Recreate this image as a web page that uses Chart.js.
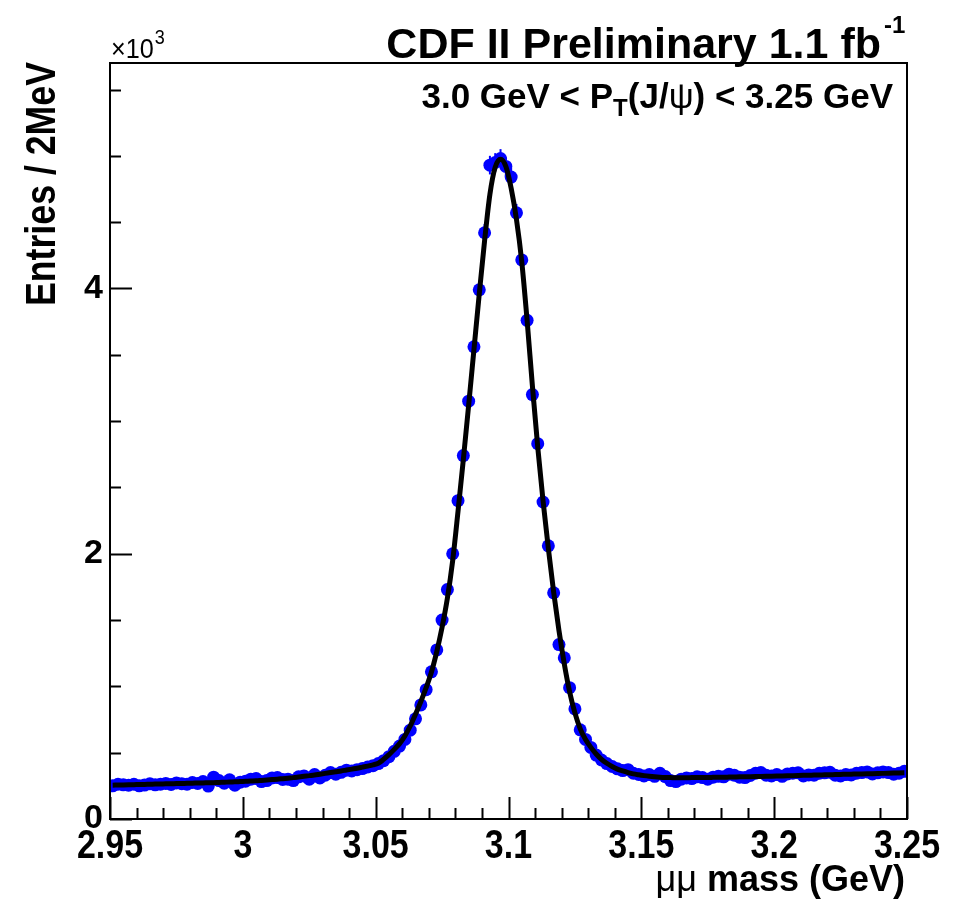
<!DOCTYPE html>
<html>
<head>
<meta charset="utf-8">
<script src="https://cdn.jsdelivr.net/npm/chart.js@4/dist/chart.umd.min.js"></script>
<style>
  html, body { margin: 0; padding: 0; background: #ffffff; }
  #wrap { position: relative; width: 966px; height: 903px; }
</style>
</head>
<body>
<div id="wrap"><canvas id="c"></canvas></div>
<script>
// ---- histogram binning (2 MeV bins from 2.95 to 3.25 GeV) ----
const BIN_LOW = 2.95;
const BIN_WIDTH = 0.002;

// ---- entries per bin ----
const COUNTS = [
  250, 262, 258, 255, 262, 250, 256, 265, 258, 262,
  268, 260, 272, 266, 262, 275, 268, 282, 248, 315,
  290, 270, 295, 255, 278, 285, 300, 305, 282, 290,
  310, 312, 298, 300, 290, 318, 325, 300, 335, 310,
  330, 350, 338, 352, 368, 362, 372, 380, 392, 402,
  418, 440, 470, 510, 550, 600, 670, 755, 860, 975,
  1110, 1275, 1500, 1730, 2000, 2400, 2740, 3150, 3560, 3990,
  4420, 4930, 4950, 4980, 4920, 4840, 4570, 4215, 3760, 3200,
  2830, 2390, 2060, 1705, 1315, 1215, 990, 830, 672, 600,
  540, 482, 445, 418, 396, 378, 365, 372, 345, 336,
  325, 335, 322, 345, 320, 290, 282, 300, 310, 305,
  318, 312, 300, 315, 322, 318, 338, 330, 315, 312,
  328, 345, 350, 330, 325, 335, 322, 340, 345, 348,
  325, 332, 330, 345, 348, 352, 330, 325, 335, 332,
  345, 350, 355, 340, 348, 355, 350, 338, 345, 360
];

// ---- fitted curve evaluated at the bin centres ----
const FIT = [
  255, 256, 257, 258, 259, 260, 261, 262, 263, 264,
  265, 266, 267, 268, 269, 270, 271, 272, 273, 274,
  276, 277, 279, 280, 282, 284, 286, 288, 291, 294,
  297, 300, 304, 308, 312, 317, 322, 327, 332, 338,
  344, 350, 356, 362, 369, 376, 383, 391, 399, 408,
  420, 450, 485, 525, 568, 626, 701, 790, 885, 990,
  1108, 1262, 1445, 1665, 1950, 2320, 2710, 3120, 3540, 3960,
  4360, 4710, 4915, 4975, 4920, 4755, 4520, 4200, 3760, 3265,
  2805, 2400, 2040, 1710, 1420, 1170, 960, 800, 680, 600,
  540, 490, 450, 420, 396, 376, 362, 350, 340, 333,
  327, 322, 318, 315, 313, 312, 311, 311, 311, 312,
  312, 313, 313, 314, 315, 315, 316, 317, 318, 318,
  319, 320, 321, 322, 323, 324, 325, 326, 327, 328,
  329, 330, 331, 332, 333, 334, 335, 336, 337, 338,
  339, 340, 341, 342, 343, 344, 345, 346, 347, 348
];

// ---- axes ----
const X_TICKS = [2.95, 3.0, 3.05, 3.1, 3.15, 3.2, 3.25];
const X_TICK_LABELS = ['2.95', '3', '3.05', '3.1', '3.15', '3.2', '3.25'];
const Y_TICKS = [0, 2000, 4000];
const Y_TICK_LABELS = ['0', '2', '4'];
const X_MIN = 2.95, X_MAX = 3.25, Y_MIN = 0, Y_MAX = 5700;

const binCenter = i => BIN_LOW + BIN_WIDTH * (i + 0.5);
const pointData = COUNTS.map((v, i) => ({ x: binCenter(i), y: v }));
const fitData = FIT.map((v, i) => ({ x: binCenter(i), y: v }));

const FONT = "'Liberation Sans', Arial, Helvetica, sans-serif";

// error bars for the data points
const errorBars = {
  id: 'errorBars',
  beforeDatasetsDraw(chart) {
    const { ctx, scales: { x, y } } = chart;
    ctx.save();
    ctx.strokeStyle = '#0000ff';
    ctx.lineWidth = 2;
    COUNTS.forEach((v, i) => {
      const e = Math.sqrt(v);
      const px = x.getPixelForValue(binCenter(i));
      ctx.beginPath();
      ctx.moveTo(px, y.getPixelForValue(v - e));
      ctx.lineTo(px, y.getPixelForValue(v + e));
      ctx.stroke();
    });
    ctx.restore();
  }
};

// ROOT-like frame, inward ticks, condensed labels and texts
const frameAndText = {
  id: 'frameAndText',
  afterDraw(chart) {
    const { ctx, chartArea: a, scales: { x, y } } = chart;
    ctx.save();
    ctx.strokeStyle = '#000';
    ctx.lineWidth = 2;
    ctx.strokeRect(a.left, a.top, a.right - a.left, a.bottom - a.top);
    ctx.beginPath();
    for (let k = 0; k <= 30; k++) {
      const v = X_MIN + k * 0.01;
      const px = Math.round(x.getPixelForValue(v)) + 0.5;
      const len = (k % 5 === 0) ? 22 : 11;
      ctx.moveTo(px, a.bottom);
      ctx.lineTo(px, a.bottom - len);
    }
    for (let k = 0; k * 500 <= Y_MAX; k++) {
      const v = k * 500;
      const py = Math.round(y.getPixelForValue(v)) + 0.5;
      const len = (k % 4 === 0) ? 22 : 11;
      ctx.moveTo(a.left, py);
      ctx.lineTo(a.left + len, py);
    }
    ctx.stroke();

    ctx.fillStyle = '#000';

    // x tick labels (condensed Helvetica-like)
    ctx.textBaseline = 'top';
    ctx.textAlign = 'center';
    ctx.font = "bold 40px " + FONT;
    x.ticks.forEach((t, i) => {
      const px = x.getPixelForValue(t.value);
      ctx.save();
      ctx.translate(px, a.bottom + 8);
      ctx.scale(0.85, 1);
      ctx.fillText(X_TICK_LABELS[i], 0, 0);
      ctx.restore();
    });

    ctx.textBaseline = 'alphabetic';
    // title
    ctx.textAlign = 'right';
    ctx.font = "bold 43px " + FONT;
    ctx.fillText('CDF II Preliminary 1.1 fb', 881, 58);
    ctx.textAlign = 'left';
    ctx.font = "bold 24px " + FONT;
    ctx.fillText('-1', 884, 33);

    // x10^3
    ctx.font = "28px " + FONT;
    ctx.save();
    ctx.translate(111, 58);
    ctx.scale(0.9, 1);
    ctx.fillText('\u00d710', 0, 0);
    const w10 = ctx.measureText('\u00d710').width;
    ctx.font = "20px " + FONT;
    ctx.fillText('3', w10 + 1, -14);
    ctx.restore();

    // selection label
    const parts = [
      { t: '3.0 GeV < P', f: "bold 35px " + FONT, dy: 0 },
      { t: 'T', f: "bold 24px " + FONT, dy: 8 },
      { t: '(J/', f: "bold 35px " + FONT, dy: 0 },
      { t: '\u03c8', f: "35px " + FONT, dy: 0 },
      { t: ') < 3.25 GeV', f: "bold 35px " + FONT, dy: 0 }
    ];
    let total = 0;
    parts.forEach(p => { ctx.font = p.f; p.w = ctx.measureText(p.t).width; total += p.w; });
    let cx = 893 - total;
    parts.forEach(p => { ctx.font = p.f; ctx.fillText(p.t, cx, 108 + p.dy); cx += p.w; });

    // x axis title
    const xparts = [
      { t: '\u03bc\u03bc', f: "36px " + FONT },
      { t: ' mass (GeV)', f: "bold 36px " + FONT }
    ];
    total = 0;
    xparts.forEach(p => { ctx.font = p.f; p.w = ctx.measureText(p.t).width; total += p.w; });
    cx = 905 - total;
    xparts.forEach(p => { ctx.font = p.f; ctx.fillText(p.t, cx, 891); cx += p.w; });

    // y axis title
    ctx.save();
    ctx.translate(55, 62);
    ctx.rotate(-Math.PI / 2);
    ctx.scale(0.85, 1);
    ctx.textAlign = 'right';
    ctx.font = "bold 42px " + FONT;
    ctx.fillText('Entries / 2MeV', 0, 0);
    ctx.restore();

    ctx.restore();
  }
};

new Chart(document.getElementById('c'), {
  type: 'scatter',
  data: {
    datasets: [
      {
        type: 'line',
        label: 'fit',
        data: fitData,
        borderColor: '#000000',
        borderWidth: 5,
        pointRadius: 0,
        fill: false,
        cubicInterpolationMode: 'monotone',
        order: 0
      },
      {
        label: 'data',
        data: pointData,
        backgroundColor: '#0000ff',
        borderColor: '#0000ff',
        borderWidth: 0,
        pointRadius: 6.5,
        pointHoverRadius: 6.5,
        order: 1
      }
    ]
  },
  options: {
    responsive: true,
    maintainAspectRatio: false,
    devicePixelRatio: 1,
    animation: false,
    events: [],
    layout: { padding: { top: 63, right: 59, left: 0, bottom: 0 } },
    plugins: { legend: { display: false }, tooltip: { enabled: false }, title: { display: false } },
    scales: {
      x: {
        type: 'linear',
        min: X_MIN, max: X_MAX,
        grid: { display: false, drawTicks: false },
        border: { display: false },
        afterBuildTicks: s => { s.ticks = X_TICKS.map(v => ({ value: v })); },
        afterFit: s => { s.height = 84; },
        ticks: {
          display: false,
          autoSkip: false,
          callback: (v, i) => X_TICK_LABELS[i]
        }
      },
      y: {
        type: 'linear',
        min: Y_MIN, max: Y_MAX,
        grid: { display: false, drawTicks: false },
        border: { display: false },
        afterBuildTicks: s => { s.ticks = Y_TICKS.map(v => ({ value: v })); },
        afterFit: s => { s.width = 110; },
        ticks: {
          padding: 7,
          color: '#000',
          autoSkip: false,
          font: { family: FONT, weight: 'bold', size: 34 },
          callback: (v, i) => Y_TICK_LABELS[i]
        }
      }
    }
  },
  plugins: [errorBars, frameAndText]
});
</script>
</body>
</html>
